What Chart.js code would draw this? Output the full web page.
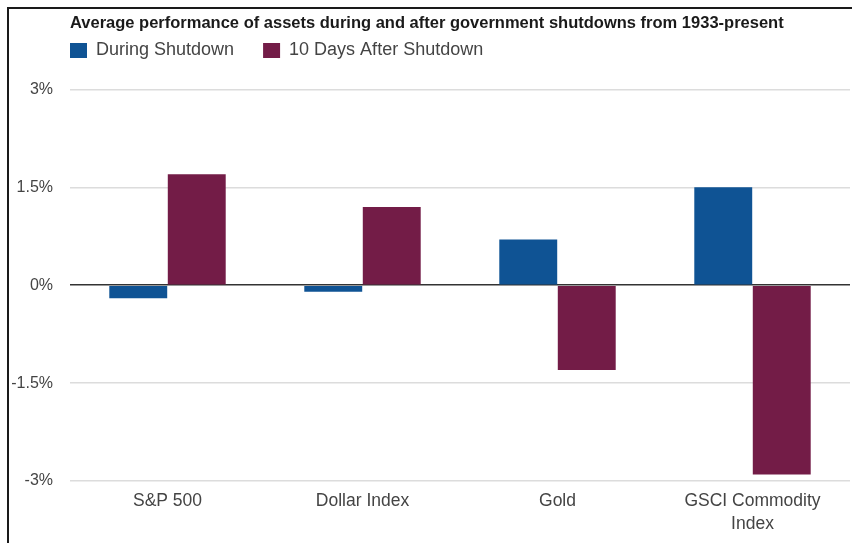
<!DOCTYPE html>
<html lang="en">
<head>
    <meta charset="UTF-8">
    <title>Government shutdowns and assets</title>
    <script src="https://cdn.jsdelivr.net/npm/chart.js"></script>
    <style>
        body { margin: 0; background: #fff; }
        #frame {
            position: absolute; left: 7px; top: 7px;
            width: 843px; height: 534px;
            border-top: 2px solid #1a1a1a; border-left: 2px solid #1a1a1a;
        }
    </style>
</head>
<body>
    <div id="frame"><canvas id="shutdownChart" width="843" height="534"></canvas></div>

    <script>
        const categories = ['S&P 500', 'Dollar Index', 'Gold', ['GSCI Commodity', 'Index']];
        const duringShutdown = [-0.2, -0.1, 0.7, 1.5];
        const afterShutdown = [1.7, 1.2, -1.3, -2.9];
        const yTicks = [-3, -1.5, 0, 1.5, 3];

        const font = 'Liberation Sans, Arial, sans-serif';

        // move title + legend so they start at the plot's left edge
        const alignHeader = {
            id: 'alignHeader',
            afterLayout(chart) {
                const left = chart.chartArea.left;
                chart.titleBlock.left = left;
                const pad = chart.legend.options.labels.padding;
                chart.legend.left = left - pad;
                chart.legend.top = chart.legend.top - 20;
            }
        };

        const ctx = document.getElementById('shutdownChart').getContext('2d');
        new Chart(ctx, {
            type: 'bar',
            data: {
                labels: categories,
                datasets: [{
                    label: 'During Shutdown',
                    data: duringShutdown,
                    backgroundColor: '#0f5394',
                    borderWidth: 0
                }, {
                    label: '10 Days After Shutdown',
                    data: afterShutdown,
                    backgroundColor: '#731c47',
                    borderWidth: 0
                }]
            },
            options: {
                responsive: false,
                animation: false,
                layout: { padding: { left: 0, right: 2, top: 0, bottom: 0 } },
                datasets: { bar: { categoryPercentage: 0.6, barPercentage: 0.99 } },
                plugins: {
                    title: {
                        display: true,
                        text: 'Average performance of assets during and after government shutdowns from 1933-present',
                        align: 'start',
                        color: '#1a1a1a',
                        font: { family: font, size: 16.5, weight: 'bold', lineHeight: 1.15 },
                        padding: { top: 4.5, bottom: 0 }
                    },
                    legend: {
                        display: true,
                        align: 'start',
                        labels: {
                            color: '#444',
                            boxWidth: 17,
                            boxHeight: 15,
                            padding: 29,
                            font: { family: font, size: 18 }
                        }
                    },
                    tooltip: { enabled: false }
                },
                scales: {
                    x: {
                        grid: { display: false },
                        border: { display: false },
                        ticks: {
                            color: '#444',
                            padding: 0.5,
                            maxRotation: 0,
                            font: { family: font, size: 17.5, lineHeight: 1.32 }
                        },
                        afterFit(scale) { scale.height = 62; }
                    },
                    y: {
                        min: -3,
                        max: 3,
                        afterBuildTicks(scale) { scale.ticks = yTicks.map(v => ({ value: v })); },
                        grid: {
                            drawTicks: false,
                            lineWidth: 1.5,
                            color: c => c.tick && c.tick.value === 0 ? '#333' : '#dcdcdc'
                        },
                        border: { display: false },
                        ticks: {
                            color: '#444',
                            padding: 17,
                            font: { family: font, size: 16 },
                            callback: v => v + '%'
                        },
                        afterFit(scale) { scale.width = 61; }
                    }
                }
            },
            plugins: [alignHeader]
        });
    </script>
</body>
</html>
